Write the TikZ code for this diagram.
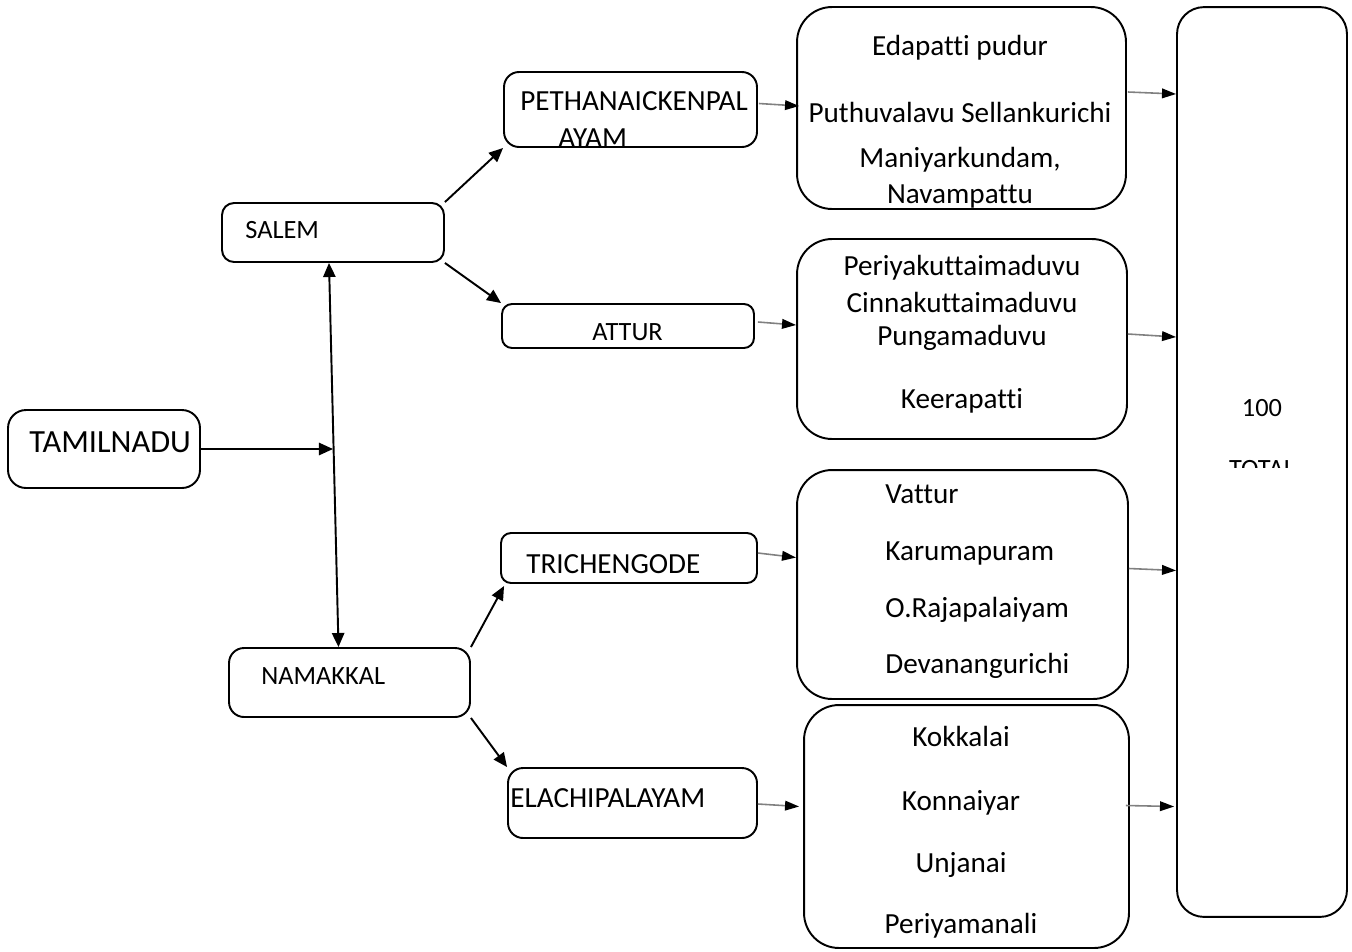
\documentclass[tikz,border=0pt]{standalone}
\usepackage{fontspec}
\setmainfont[Ligatures=NoCommon]{Carlito}
\usetikzlibrary{arrows.meta,calc}

\tikzset{
  box/.style={draw, line width=1.1pt, rounded corners=#1, inner sep=0pt},
  box/.default=0.3cm,
  bigtxt/.style={font=\fontsize{18.4}{21}\selectfont, inner sep=0pt},
  midtxt/.style={font=\fontsize{16.6}{19}\selectfont, inner sep=0pt},
  smalltxt/.style={font=\fontsize{15}{17}\selectfont, inner sep=0pt},
  conn/.style={line width=1.1pt, -{Triangle[length=8pt,width=7pt]}},
  feed/.style={line width=0.9pt, black!50, -{Triangle[length=8pt,width=5.5pt,color=black]}},
}

\begin{document}
\begin{tikzpicture}[x=0.02cm, y=-0.02cm]
\useasboundingbox (0,0) rectangle (1352,951);

% ---- state, districts, blocks ------------------------------------------------
\node[box=0.36cm, minimum width=3.84cm, minimum height=1.56cm] (tamil)    at (104,449)   {};
\node[box=0.24cm, minimum width=4.44cm, minimum height=1.18cm] (salem)    at (333,232.5) {};
\node[box=0.3cm,  minimum width=4.82cm, minimum height=1.38cm] (namakkal) at (349.5,682.5) {};
\node[box=0.3cm,  minimum width=5.06cm, minimum height=1.5cm]  (peth)     at (630.5,109.5) {};
\node[box=0.2cm,  minimum width=5.04cm, minimum height=0.88cm] (attur)    at (628,326)   {};
\node[box=0.2cm,  minimum width=5.12cm, minimum height=1.0cm]  (trich)    at (629,558)   {};
\node[box=0.3cm,  minimum width=4.98cm, minimum height=1.4cm]  (elachi)   at (632.5,803) {};

\node[bigtxt,   anchor=base west] (tamiltxt)  at (29,452)  {TAMILNADU};
\node[smalltxt, anchor=base west] (salemtxt)  at (245,238) {SALEM};
\node[smalltxt, anchor=base west] (namtxt)    at (261,684) {NAMAKKAL};
\node[midtxt,   anchor=base west] (pethtxt)   at (520,110) {PETHANAICKENPAL};
\node[midtxt,   anchor=base west] (pethtxtb)  at (558,147) {AYAM};
\node[smalltxt, anchor=base west] (atturtxt)  at (592,340) {ATTUR};
\node[midtxt,   anchor=base west] (trichtxt)  at (526,573) {TRICHENGODE};
\node[midtxt,   anchor=base west] (elachitxt) at (510,807) {ELACHIPALAYAM};

% ---- village boxes -----------------------------------------------------------
\node[box=0.7cm, minimum width=6.58cm, minimum height=4.04cm] (v1) at (961.5,108)   {};
\node[box=0.7cm, minimum width=6.6cm,  minimum height=4.0cm]  (v2) at (962,339)     {};
\node[box=0.7cm, minimum width=6.62cm, minimum height=4.58cm] (v3) at (962.5,584.5) {};
\node[box=0.7cm, minimum width=6.5cm,  minimum height=4.86cm] (v4) at (966.5,826.5) {};

\foreach \y/\t [count=\i] in {55/Edapatti pudur, 122/Puthuvalavu Sellankurichi, 167/{Maniyarkundam,}}
  \node[midtxt, anchor=base] (vone\i) at (960,\y) {\t};
\begin{scope}
  \clip[rounded corners=0.7cm] (v1.south west) rectangle (v1.north east);
  \node[midtxt, anchor=base] (vonefour) at (960,203) {Navampattu};
\end{scope}

\foreach \y/\t [count=\i] in {275/Periyakuttaimaduvu, 312/Cinnakuttaimaduvu, 345/Pungamaduvu, 408/Keerapatti}
  \node[midtxt, anchor=base] (vtwo\i) at (962,\y) {\t};

\foreach \y/\t [count=\i] in {503/Vattur, 560/Karumapuram, 617/O.Rajapalaiyam, 673/Devanangurichi}
  \node[midtxt, anchor=base west] (vthree\i) at (885,\y) {\t};

\foreach \y/\t [count=\i] in {746/Kokkalai, 810/Konnaiyar, 872/Unjanai, 933/Periyamanali}
  \node[midtxt, anchor=base] (vfour\i) at (961,\y) {\t};

% ---- total -------------------------------------------------------------------
\node[box=0.54cm, minimum width=3.4cm, minimum height=18.2cm] (total) at (1262,462) {};
\node[smalltxt, anchor=base] (hundred) at (1262,416) {100};
\begin{scope}
  \clip (total.north west) rectangle ($(total.east)+(0,5)$);
  \node[smalltxt, anchor=base] (totaltxt) at (1262,477) {TOTAL};
\end{scope}

% ---- connectors --------------------------------------------------------------
\draw[conn] (tamil.east) -- (tamil.east -| salem.south);
\draw[conn, {Triangle[length=8pt,width=7pt]}-{Triangle[length=8pt,width=7pt]}]
  ($(salem.south)+(-4,0)$) -- ($(namakkal.north)+(-11,0)$);
\draw[conn] (salem.north east) -- (peth.south west);
\draw[conn] (salem.south east) -- (attur.north west);
\draw[conn] (namakkal.north east) -- ($(trich.south west)+(4,2)$);
\draw[conn] (namakkal.south east) -- (elachi.north west);

\draw[feed] ($(peth.east)+(1,-6)$)   -- ($(v1.west)+(3,-2)$);
\draw[feed] ($(attur.east)+(3,-4)$)  -- ($(v2.west)+(0,-14)$);
\draw[feed] ($(trich.east)+(0,-5)$)  -- ($(v3.west)+(0,-27)$);
\draw[feed] ($(elachi.east)+(0,1)$)  -- ($(v4.west)+(-4,-20)$);

\draw[feed] ($(v1.east)+(1,-16)$)  -- ($(v1.east -| total.west)+(0,-14)$);
\draw[feed] ($(v2.east)+(0,-5)$)   -- ($(v2.east -| total.west)+(0,-2)$);
\draw[feed] ($(v3.east)+(0,-16)$)  -- ($(v3.east -| total.west)+(0,-14)$);
\draw[feed] ($(v4.east)+(-4,-21)$) -- ($(v4.east -| total.west)+(-2,-20)$);

\end{tikzpicture}
\end{document}
